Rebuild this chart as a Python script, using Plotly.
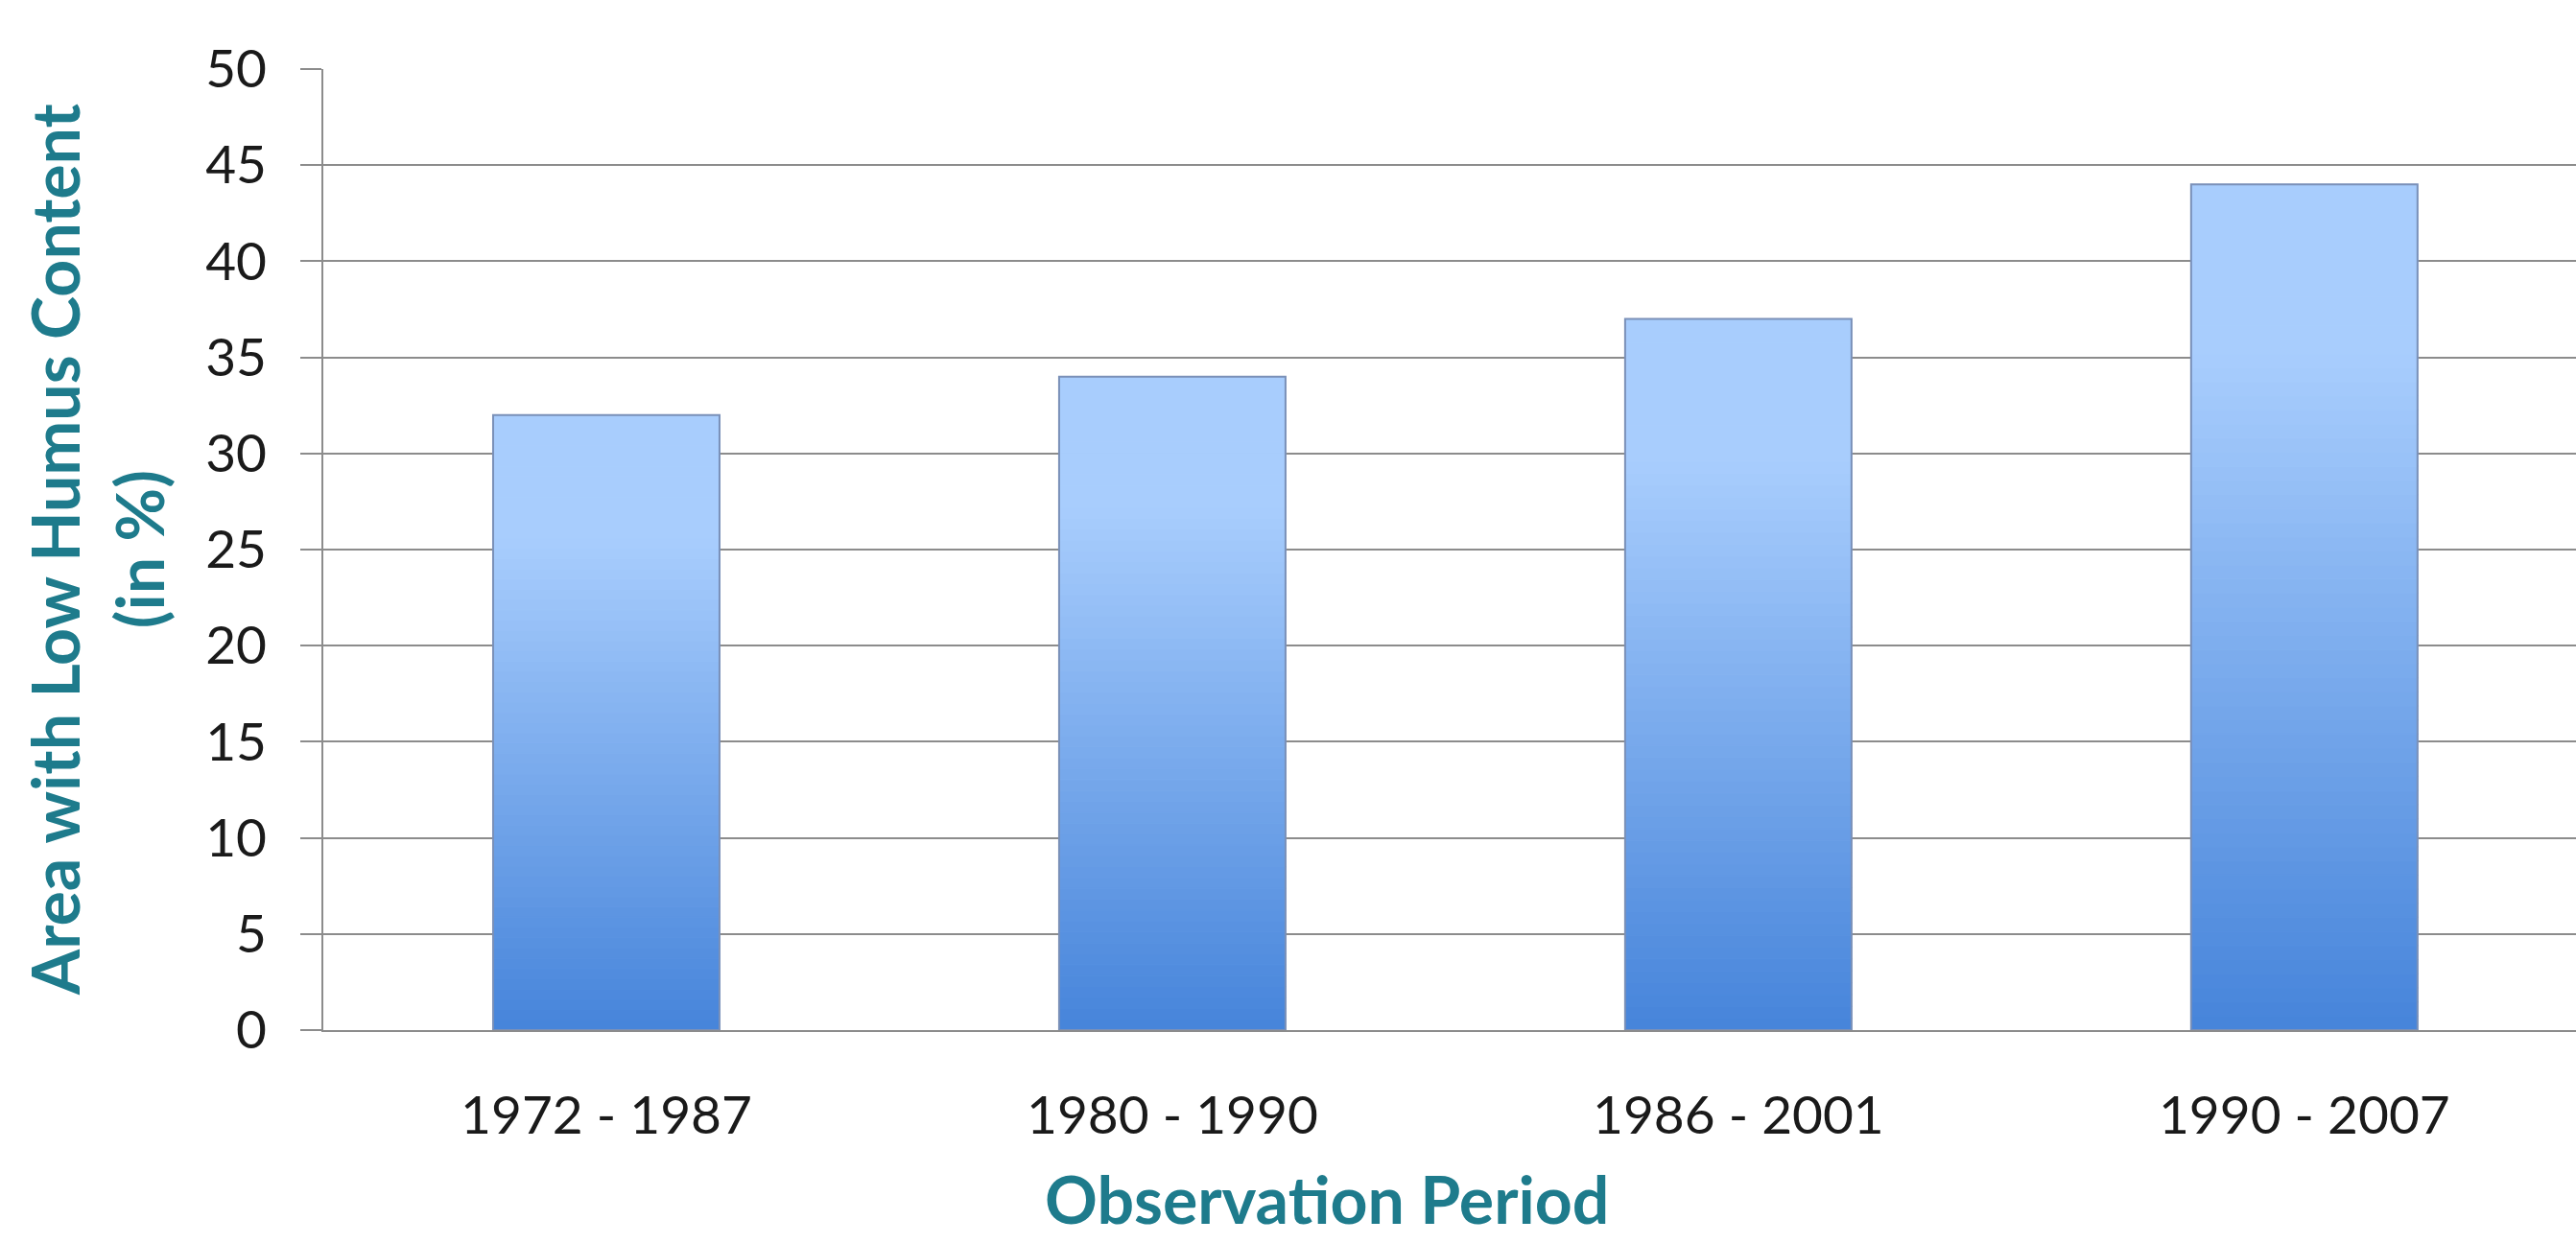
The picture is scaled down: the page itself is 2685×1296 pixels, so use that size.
import plotly.graph_objects as go

# ---- data ----
periods = ["1972 - 1987", "1980 - 1990", "1986 - 2001", "1990 - 2007"]
low_humus_area = [32, 34, 37, 44]
y_ticks = [0, 5, 10, 15, 20, 25, 30, 35, 40, 45, 50]

x_title = "Observation Period"
y_title = "Area with Low Humus Content<br>(in %)"

# ---- styling ----
FONT = "Lato"
TEAL = "#1e7b8c"
GRID = "#8c8c8c"
TOP_RGB = (168, 205, 253)
BOT_RGB = (70, 132, 218)
N_SLICES = 60
BAR_WIDTH = 0.4

fig = go.Figure()

# gradient fill: each bar is split into equal slices of its own height (styling only)
for k in range(N_SLICES):
    t = min(1.0, ((k + 0.5) / N_SLICES) * 1.25)  # 0 bottom -> 1 top
    r = round(BOT_RGB[0] + (TOP_RGB[0] - BOT_RGB[0]) * t)
    g = round(BOT_RGB[1] + (TOP_RGB[1] - BOT_RGB[1]) * t)
    b = round(BOT_RGB[2] + (TOP_RGB[2] - BOT_RGB[2]) * t)
    col = f"rgb({r},{g},{b})"
    fig.add_trace(go.Bar(
        x=periods,
        y=[v / N_SLICES for v in low_humus_area],
        base=[v * k / N_SLICES for v in low_humus_area],
        width=BAR_WIDTH,
        marker=dict(color=col, line=dict(width=1.2, color=col)),
        hoverinfo="skip",
        showlegend=False,
    ))

# the data bars themselves (outline)
fig.add_trace(go.Bar(
    x=periods,
    y=low_humus_area,
    width=BAR_WIDTH,
    marker=dict(color="rgba(0,0,0,0)", line=dict(color="#7a90b8", width=2)),
    showlegend=False,
    name="Area with Low Humus Content",
))

fig.update_layout(
    width=2685,
    height=1296,
    margin=dict(l=337, r=0, t=72, b=222),
    paper_bgcolor="white",
    plot_bgcolor="white",
    barmode="overlay",
    font=dict(family=FONT, size=55, color="#1a1a1a"),
    xaxis=dict(
        type="category",
        range=[-0.5, 3.48],
        showgrid=False,
        showline=True,
        linecolor=GRID,
        linewidth=2,
        ticks="",
        ticklabelstandoff=40,
        tickfont=dict(family=FONT, size=55, color="#1a1a1a"),
        zeroline=False,
    ),
    yaxis=dict(
        range=[0, 50],
        tickvals=y_ticks,
        showgrid=True,
        gridcolor=GRID,
        gridwidth=2,
        showline=True,
        linecolor=GRID,
        linewidth=2,
        ticks="outside",
        ticklen=22,
        tickwidth=2,
        tickcolor=GRID,
        ticklabelstandoff=24,
        tickfont=dict(family=FONT, size=55, color="#1a1a1a"),
        zeroline=False,
    ),
    annotations=[
        dict(
            text=f"<b>{x_title}</b>",
            xref="paper", yref="paper",
            x=0.4455, y=0,
            xanchor="center", yanchor="bottom",
            yshift=-218,
            showarrow=False,
            font=dict(family=FONT, size=68, color=TEAL),
        ),
        dict(
            text=f"<b>{y_title}</b>",
            xref="paper", yref="paper",
            x=0, y=0.5,
            xanchor="center", yanchor="middle",
            xshift=-237,
            textangle=-90,
            showarrow=False,
            font=dict(family=FONT, size=68, color=TEAL),
        ),
    ],
)

fig.write_html("out.html")
